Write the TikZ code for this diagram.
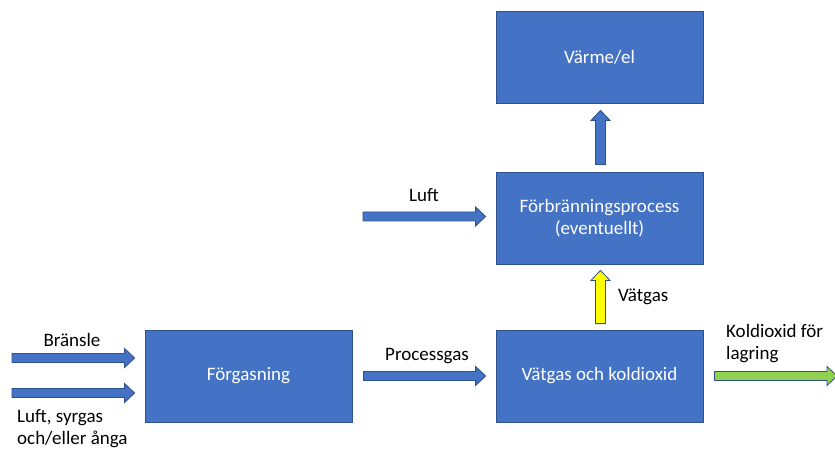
\documentclass[tikz,border=0pt]{standalone}
\usepackage{fontspec}
\setmainfont{Carlito}
\usetikzlibrary{calc}
\definecolor{boxblue}{HTML}{4472C4}
\definecolor{boxline}{HTML}{2F528F}
\definecolor{arrowyellow}{HTML}{FFFF00}
\definecolor{arrowgreen}{HTML}{92D050}
\tikzset{
  procbox/.style={draw=boxline, line width=0.8pt, fill=boxblue, text=white,
    minimum width=207pt, minimum height=92pt, inner sep=0pt, align=center,
    font=\fontsize{19pt}{22.5pt}\selectfont},
  lbl/.style={text=black, inner sep=0pt, align=left,
    font=\fontsize{19pt}{22pt}\selectfont},
  blockarrow/.style={draw=boxline, line width=0.8pt},
}
% horizontal block arrow pointing right: fill, start, end
\newcommand\harrowx[3]{%
  \path[blockarrow, fill=#1] let \p1=(#2), \p2=(#3) in
    (\x1,\y1-4.5pt) -- (\x2-10pt,\y1-4.5pt) -- (\x2-10pt,\y1-9.5pt) -- (\x2,\y1)
    -- (\x2-10pt,\y1+9.5pt) -- (\x2-10pt,\y1+4.5pt) -- (\x1,\y1+4.5pt) -- cycle;}
% vertical block arrow pointing up: fill, start (bottom), end (tip)
\newcommand\varrowx[3]{%
  \path[blockarrow, fill=#1] let \p1=(#2), \p2=(#3) in
    (\x1-5pt,\y1) -- (\x1-5pt,\y2-10pt) -- (\x1-9.5pt,\y2-10pt) -- (\x1,\y2)
    -- (\x1+9.5pt,\y2-10pt) -- (\x1+5pt,\y2-10pt) -- (\x1+5pt,\y1) -- cycle;}
\begin{document}
\begin{tikzpicture}[x=1pt,y=-1pt]
\useasboundingbox (0,0) rectangle (835,449);
% boxes
\node[procbox] (varme) at (599.5,57) {Värme/el};
\node[procbox] (forbr) at (599.5,218) {Förbränningsprocess\\(eventuellt)};
\node[procbox] (vatg) at (599.5,376) {Vätgas och koldioxid};
\node[procbox] (forg) at (248.5,376) {Förgasning};
% arrow end points
\coordinate (bransleS) at (12,358);
\coordinate (bransleE) at ($(forg.west)+(-10,-18)$);
\coordinate (luftsS) at (12,393);
\coordinate (luftsE) at ($(forg.west)+(-10,17)$);
\coordinate (luftS) at (363,216.5);
\coordinate (luftE) at ($(forbr.west)+(-10,-1.5)$);
\coordinate (procS) at ($(forg.east)+(11,0)$);
\coordinate (procE) at ($(vatg.west)+(-10,0)$);
\coordinate (co2S) at ($(vatg.east)+(11,0)$);
\coordinate (co2E) at (837,376);
\coordinate (vS) at ($(forbr.north)+(1,-7)$);
\coordinate (vE) at ($(varme.south)+(1,7)$);
\coordinate (hS) at ($(vatg.north)+(1,-6)$);
\coordinate (hE) at ($(forbr.south)+(1,6)$);
% arrows
\harrowx{boxblue}{bransleS}{bransleE}
\harrowx{boxblue}{luftsS}{luftsE}
\harrowx{boxblue}{luftS}{luftE}
\harrowx{boxblue}{procS}{procE}
\harrowx{arrowgreen}{co2S}{co2E}
\varrowx{boxblue}{vS}{vE}
\varrowx{arrowyellow}{hS}{hE}
% labels
\node[lbl] (lbransle) at (72,340) {Bränsle};
\node[lbl, anchor=west] (lluftsyr) at (17,428.5) {Luft, syrgas\\och/eller ånga};
\node[lbl] (lluft) at (424,195) {Luft};
\node[lbl] (lproc) at (427,356) {Processgas};
\node[lbl, anchor=west] (lvatg) at (618,297) {Vätgas};
\node[lbl, anchor=west] (lco2) at (726,344) {Koldioxid för\\lagring};
\end{tikzpicture}
\end{document}
